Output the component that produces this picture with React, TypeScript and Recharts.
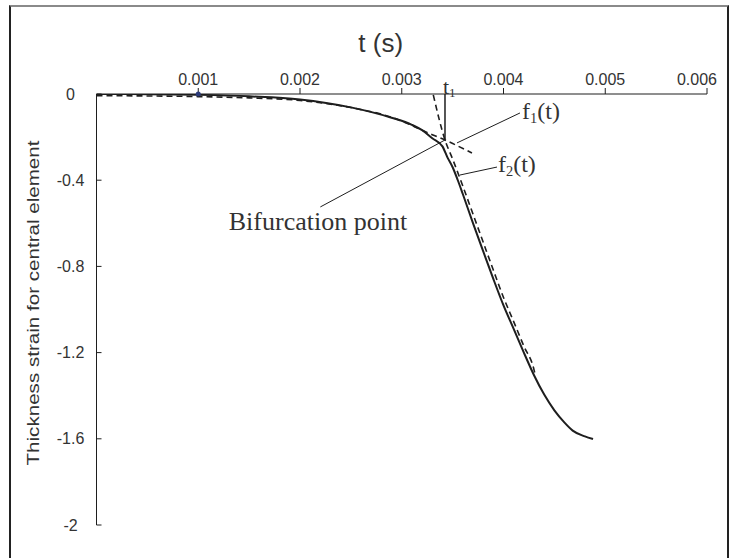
import { LineChart, Line, XAxis, YAxis, ReferenceLine, ReferenceDot } from 'recharts'

// Axis ticks
const xTicks = [0.001, 0.002, 0.003, 0.004, 0.005, 0.006]
const yTicks = [0, -0.4, -0.8, -1.2, -1.6, -2]

// Measured thickness strain (solid curve)
const strainTime = [
  0, 0.0005, 0.001, 0.0015, 0.002, 0.0025, 0.0029, 0.0031, 0.0032, 0.0033, 0.0034, 0.00345,
  0.0035, 0.00355, 0.0036, 0.0037, 0.0038, 0.0039, 0.004, 0.0041, 0.0042, 0.0043, 0.0044,
  0.0045, 0.0046, 0.00468, 0.0048, 0.00488,
]
const strainValue = [
  0, -0.001, -0.004, -0.011, -0.025, -0.062, -0.11, -0.143, -0.168, -0.205, -0.243, -0.295,
  -0.34, -0.399, -0.464, -0.599, -0.729, -0.858, -0.981, -1.09, -1.2, -1.305, -1.395,
  -1.468, -1.525, -1.562, -1.589, -1.601,
]

// Fitted curve f1(t) (dashed)
const f1Time = [0, 0.0005, 0.001, 0.0015, 0.002, 0.0025, 0.0029, 0.0031, 0.0033, 0.003425, 0.00369]
const f1Value = [-0.008, -0.009, -0.012, -0.018, -0.03, -0.063, -0.108, -0.146, -0.189, -0.2135, -0.274]

// Fitted curve f2(t) (dashed)
const f2Time = [0.00331, 0.003425, 0.0035, 0.0036, 0.0037, 0.0038, 0.0039, 0.004, 0.0041, 0.0042, 0.0043, 0.00431]
const f2Value = [-0.004, -0.2135, -0.302, -0.427, -0.557, -0.687, -0.817, -0.944, -1.056, -1.17, -1.28, -1.3]

// Bifurcation point (t1)
const t1 = 0.003425
const bifurcationStrain = -0.2135

// Leader lines: [from, to] in data units
const bifurcationLeader = [[0.0022, -0.524], [t1, bifurcationStrain]]
const f1Leader = [[0.003543, -0.227], [0.004162, -0.088]]
const f2Leader = [[0.003572, -0.376], [0.003936, -0.339]]

// Label anchors (text start, baseline)
const bifurcationLabelAt = [0.0013, -0.631]
const f1LabelAt = [0.004182, -0.118]
const f2LabelAt = [0.003946, -0.362]

const INK = '#1e1e1e'
const TEXT = '#333333'
const SANS = "'Liberation Sans', Arial, sans-serif"
const SERIF = "'Liberation Serif', 'Times New Roman', serif"

const Y_TICK_SIZE = 5
const Y_TICK_MARGIN = 4

const strainData = strainTime.map((t, i) => ({ t, v: strainValue[i] }))
const f1Data = f1Time.map((t, i) => ({ t, v: f1Value[i] }))
const f2Data = f2Time.map((t, i) => ({ t, v: f2Value[i] }))

const toSegment = (pts: number[][]) => pts.map(([x, y]) => ({ x, y }))

function XTick(props: any) {
  const { x, y, payload, index } = props
  const last = index === xTicks.length - 1
  return (
    <text x={x} y={y} dx={last ? -10 : 0} textAnchor="middle" fontSize={16} fontFamily={SANS} fill={TEXT}>
      {payload.value.toFixed(3)}
    </text>
  )
}

function YTick(props: any) {
  const { x, y, payload } = props
  const axisX = x + Y_TICK_SIZE + Y_TICK_MARGIN
  return (
    <g>
      <line x1={axisX} x2={axisX + Y_TICK_SIZE} y1={y} y2={y} stroke={INK} strokeWidth={1} />
      <text x={axisX - 26} y={y} dy={5.5} textAnchor="middle" fontSize={16} fontFamily={SANS} fill={TEXT}>
        {String(payload.value)}
      </text>
    </g>
  )
}

const subLabel = (main: string, sub: string, tail: string, size: number) => (props: any) => {
  const { x, y } = props.viewBox
  return (
    <text x={x} y={y} fontFamily={SERIF} fontSize={size} fill={TEXT}>
      {main}
      <tspan fontSize={size * 0.6} dy={size * 0.15}>{sub}</tspan>
      <tspan dy={-size * 0.15}>{tail}</tspan>
    </text>
  )
}

const plainLabel = (text: string, size: number) => (props: any) => {
  const { x, y } = props.viewBox
  return (
    <text x={x} y={y} fontFamily={SERIF} fontSize={size} fill={TEXT}>
      {text}
    </text>
  )
}

export default function App() {
  return (
    <div style={{ position: 'absolute', left: 0, top: 0, width: 730, height: 558, background: '#fff', overflow: 'hidden' }}>
      <div
        style={{
          position: 'absolute',
          left: 9,
          top: 5,
          width: 716,
          height: 600,
          borderTop: '2px solid #8a8a8a',
          borderLeft: '2px solid #222',
          borderRight: '2px solid #222',
        }}
      />
      <LineChart width={730} height={558} margin={{ top: 64, right: 23, bottom: 33, left: 16.5 }} style={{ position: 'absolute', left: 0, top: 0 }}>
        <XAxis
          xAxisId={0}
          orientation="top"
          type="number"
          dataKey="t"
          domain={[0, 0.006]}
          ticks={xTicks}
          allowDataOverflow
          height={30}
          tickSize={6}
          tickMargin={3}
          tick={<XTick />}
          axisLine={{ stroke: INK, strokeWidth: 1 }}
          tickLine={{ stroke: INK, strokeWidth: 1 }}
          label={(p: any) => {
            const vb = p.viewBox
            return (
              <text x={vb.x + vb.width / 2 - 21} y={vb.y - 12} textAnchor="middle" fontSize={26} fontFamily={SANS} fill={TEXT}>
                t (s)
              </text>
            )
          }}
        />
        <YAxis
          yAxisId={0}
          type="number"
          domain={[-2, 0]}
          ticks={yTicks}
          allowDataOverflow
          width={80}
          tickSize={Y_TICK_SIZE}
          tickMargin={Y_TICK_MARGIN}
          tickLine={false}
          tick={<YTick />}
          axisLine={{ stroke: INK, strokeWidth: 1 }}
          label={() => (
            <text
              x={39}
              y={303}
              transform="rotate(-90, 39, 303)"
              textAnchor="middle"
              fontSize={17}
              fontFamily={SANS}
              fill={TEXT}
              textLength={325}
              lengthAdjust="spacingAndGlyphs"
            >
              Thickness strain for central element
            </text>
          )}
        />

        <Line data={f1Data} dataKey="v" type="monotone" stroke={INK} strokeWidth={1.6} strokeDasharray="6 4" dot={false} isAnimationActive={false} />
        <Line data={f2Data} dataKey="v" type="monotone" stroke={INK} strokeWidth={1.6} strokeDasharray="6 4" dot={false} isAnimationActive={false} />
        <Line data={strainData} dataKey="v" type="monotone" stroke={INK} strokeWidth={2} dot={false} isAnimationActive={false} />

        <ReferenceLine segment={[{ x: t1, y: 0 }, { x: t1, y: bifurcationStrain }]} stroke={INK} strokeWidth={1.5} ifOverflow="visible" />
        <ReferenceLine segment={toSegment(bifurcationLeader)} stroke={INK} strokeWidth={1} ifOverflow="visible" />
        <ReferenceLine segment={toSegment(f1Leader)} stroke={INK} strokeWidth={1} ifOverflow="visible" />
        <ReferenceLine segment={toSegment(f2Leader)} stroke={INK} strokeWidth={1} ifOverflow="visible" />

        <ReferenceDot x={0.001} y={0} r={2.5} fill="#2b3a7a" stroke="none" ifOverflow="visible" />

        <ReferenceDot x={t1 - 0.00002} y={0} r={0} fill="none" stroke="none" ifOverflow="visible" label={subLabel('t', '1', '', 22)} />
        <ReferenceDot x={bifurcationLabelAt[0]} y={bifurcationLabelAt[1]} r={0} fill="none" stroke="none" ifOverflow="visible" label={plainLabel('Bifurcation point', 26)} />
        <ReferenceDot x={f1LabelAt[0]} y={f1LabelAt[1]} r={0} fill="none" stroke="none" ifOverflow="visible" label={subLabel('f', '1', '(t)', 24)} />
        <ReferenceDot x={f2LabelAt[0]} y={f2LabelAt[1]} r={0} fill="none" stroke="none" ifOverflow="visible" label={subLabel('f', '2', '(t)', 24)} />
      </LineChart>
    </div>
  )
}
